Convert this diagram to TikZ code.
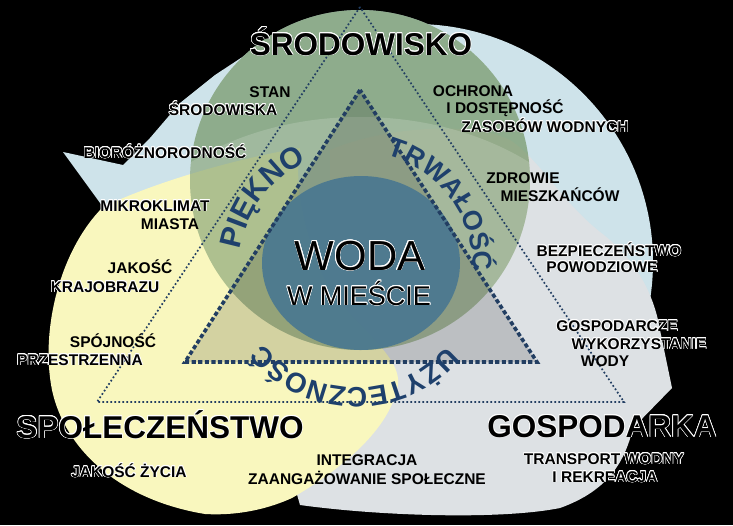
\documentclass[tikz,border=0pt]{standalone}
\usepackage{fontspec}
\setmainfont{Liberation Sans}
\usepackage[copies]{contour}
\contourlength{0.6pt}
\contournumber{16}
\usetikzlibrary{decorations.text}
\definecolor{lblue}{RGB}{206,227,234}
\definecolor{lgray}{RGB}{221,225,228}
\definecolor{lyellow}{RGB}{249,247,190}
\definecolor{dgreen}{RGB}{100,136,78}
\definecolor{dblue}{RGB}{74,120,144}
\definecolor{arcblue}{RGB}{30,64,108}
\definecolor{dotblue}{RGB}{34,62,98}
\newcommand\lblfont{\fontsize{15.5}{17}\selectfont\bfseries}
\newcommand\bigfont{\fontsize{31.5}{33}\selectfont\bfseries}
\newcommand\wodafont{\fontsize{42}{44}\selectfont}
\newcommand\miescfont{\fontsize{27}{29}\selectfont}
\newcommand\arcA{\fontsize{30}{30}\selectfont\bfseries}
\newcommand\arcB{\fontsize{27}{27}\selectfont\bfseries}
\newcommand\arcC{\fontsize{28}{28}\selectfont\bfseries}
\newcommand\hl[1]{\contour{white}{#1}}
\begin{document}
\begin{tikzpicture}[x=1pt,y=-1pt,
  lbl/.style={font=\lblfont, text=black, inner sep=0pt, anchor=base},
  big/.style={font=\bigfont, text=black, inner sep=0pt, anchor=base},
  outerdots/.style={draw=dotblue, line width=1.7pt, dash pattern=on 1.7pt off 2.3pt},
  innerdots/.style={draw=dotblue, line width=3.6pt, dash pattern=on 4.2pt off 2.4pt},
  arctext/.style={decorate, decoration={text along path, text align=center, text color=arcblue, text={#1}}}]
\fill[black] (0,0) rectangle (733,525);
\useasboundingbox (0,0) rectangle (733,525);
% light blue swirl: big disc plus the swallow tail on the left
\fill[lblue] (415,262) circle[radius=238];
\fill[lblue] (63,152) -- (123,165) -- (150,138) -- (180,103) -- (215,75) -- (250,52) -- (285,36) -- (400,200) -- (200,300) -- (103,207) -- cycle;
\fill[lblue] (360,180) circle[radius=170];
% gray swirl
\fill[lgray] (330,150) .. controls (380,128) and (470,120) .. (510,140)
  .. controls (540,160) and (560,200) .. (600,232)
  .. controls (640,262) and (655,300) .. (660,330)
  -- (672,388) -- (633,428)
  .. controls (625,460) and (610,490) .. (560,508)
  .. controls (500,520) and (380,516) .. (300,505)
  -- (290,470) -- (330,350) -- cycle;
% yellow swirl
\fill[lyellow] (103,207) .. controls (60,250) and (40,330) .. (52,390)
  .. controls (65,450) and (120,500) .. (205,514)
  .. controls (240,516) and (270,508) .. (292,498)
  .. controls (340,470) and (390,430) .. (398,385)
  .. controls (402,350) and (340,320) .. (320,270)
  .. controls (300,220) and (295,180) .. (300,148)
  .. controls (240,158) and (160,180) .. (103,207) -- cycle;
% green circle with its lighter inner band
\fill[dgreen, fill opacity=0.6] (360,180) circle[radius=170];
\begin{scope}
  \clip (360,180) circle[radius=170];
  \fill[white, fill opacity=0.16] (360,305) ellipse[x radius=260, y radius=188];
\end{scope}
% triangles
\coordinate (oT) at (360,7);
\coordinate (oL) at (97,402);
\coordinate (oR) at (624,402);
\coordinate (iT) at (360,90);
\coordinate (iL) at (185,362);
\coordinate (iR) at (537,362);
\fill[black, fill opacity=0.15] (iT) -- (iL) -- (iR) -- cycle;
\fill[dblue, fill opacity=0.92] (361,263) ellipse[x radius=99, y radius=87];
\draw[outerdots] (oT) -- (oL) -- (oR) -- cycle;
\draw[innerdots] (iT) -- (iL) -- (iR) -- cycle;
% arc texts
\path[arctext={|\arcA|PIĘKNO}] (356,268) ++(167:117) arc[start angle=167, end angle=267, radius=117];
\path[arctext={|\arcB|TRWAŁOŚĆ}] (356,268) ++(268:117) arc[start angle=268, end angle=379, radius=117];
\path[arctext={|\arcC|UŻYTECZNOŚĆ}] (356,268) ++(21:120) arc[start angle=21, end angle=161, radius=120];
% center
\node[font=\wodafont, inner sep=0pt, anchor=base] (woda) at (360,270) {\hl{WODA}};
\node[font=\miescfont, inner sep=0pt, anchor=base] (miesc) at (359,305) {\hl{W MIEŚCIE}};
% big titles
\node[big] (srod) at (361,55) {\hl{ŚRODOWISKO}};
\node[big] (spol) at (160,438) {\hl{SPOŁECZEŃSTWO}};
\node[big] (gosp) at (602,437) {\hl{GOSPODARKA}};
% labels
\node[lbl] (stan) at (270,97) {STAN};
\node[lbl] (stan2) at (223,115) {\hl{ŚRODOWISKA}};
\node[lbl] (bio) at (165,158) {\hl{BIORÓŻNORODNOŚĆ}};
\node[lbl] (mikro) at (155,211) {\hl{MIKROKLIMAT}};
\node[lbl] (mikro2) at (170,229) {MIASTA};
\node[lbl] (jak) at (140,273) {JAKOŚĆ};
\node[lbl] (jak2) at (105,292) {\hl{KRAJOBRAZU}};
\node[lbl] (spoj) at (113,347) {SPÓJNOŚĆ};
\node[lbl] (spoj2) at (80,365) {\hl{PRZESTRZENNA}};
\node[lbl] (zyc) at (129,477) {\hl{JAKOŚĆ ŻYCIA}};
\node[lbl] (integ) at (367,465) {INTEGRACJA};
\node[lbl] (integ2) at (367,484) {ZAANGAŻOWANIE SPOŁECZNE};
\node[lbl] (ochr) at (473,96) {OCHRONA};
\node[lbl] (ochr2) at (505,113) {I DOSTĘPNOŚĆ};
\node[lbl] (ochr3) at (545,132) {\hl{ZASOBÓW WODNYCH}};
\node[lbl] (zdr) at (523,183) {ZDROWIE};
\node[lbl] (zdr2) at (560,201) {MIESZKAŃCÓW};
\node[lbl] (bezp) at (609,256) {\hl{BEZPIECZEŃSTWO}};
\node[lbl] (bezp2) at (602,272) {\hl{POWODZIOWE}};
\node[lbl] (gw) at (617,331) {\hl{GOSPODARCZE}};
\node[lbl] (gw2) at (639,349) {\hl{WYKORZYSTANIE}};
\node[lbl] (gw3) at (605,366) {WODY};
\node[lbl] (tr) at (604,464) {\hl{TRANSPORT WODNY}};
\node[lbl] (tr2) at (605,482) {\hl{I REKREACJA}};
\end{tikzpicture}
\end{document}
